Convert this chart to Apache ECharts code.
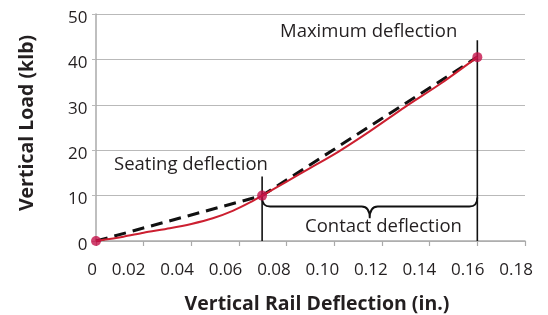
<!DOCTYPE html>
<html><head><meta charset="utf-8">
<script src="https://cdn.jsdelivr.net/npm/echarts@6/dist/echarts.min.js"></script>
<style>html,body{margin:0;padding:0;background:#fff}#c{width:548px;height:315px}</style>
</head><body><div id="c"></div><script>
// Measured load-deflection curve (in., klb)
const curveX = [0, 0.0115, 0.02, 0.031, 0.040, 0.049, 0.0576, 0.0646, 0.0697, 0.08, 0.09, 0.1018, 0.115, 0.1296, 0.145, 0.16];
const curveY = [0, 0.95, 1.83, 2.8, 3.75, 5.0, 6.7, 8.5, 10.0, 13.1, 16.1, 19.7, 24.2, 29.5, 34.8, 40.5];
// Dashed secant lines
const secantX = [0, 0.0697, 0.16];
const secantY = [0, 10, 40.5];
// Key points (origin, seating, maximum)
const keyX = [0, 0.0697, 0.16];
const keyY = [0, 10, 40.5];
// Marker lines for seating and maximum deflection
const seatLineY = [0, 14.2];
const maxLineY = [0, 44.2];
// Brace for contact deflection: [x1, x2, yEnds, yBar, yTip]
const brace = [0.0697, 0.16, 9.6, 7.6, 5.0];
// Axes
const xMin = 0, xMax = 0.18, xStep = 0.02;
const yMin = 0, yMax = 50, yStep = 10;

const zip = (a, b) => a.map((v, i) => [v, b[i]]);
const FONT = '"Open Sans", "Noto Sans", sans-serif';
const TXT = '#231f20';
const GRID = '#b9b9b9';

const chart = echarts.init(document.getElementById('c'));
chart.setOption({
  animation: false,
  backgroundColor: '#fff',
  grid: [
    {left: 96, right: 23, top: 14, bottom: 74},
    {left: 97, right: 15, top: 18, bottom: 70}
  ],
  xAxis: [
    {gridIndex: 0, type: 'value', min: xMin, max: xMax, interval: xStep,
     axisLine: {show: true, lineStyle: {color: '#aaa', width: 1.5}},
     axisTick: {show: true, length: 5, lineStyle: {color: '#aaa', width: 1.2}},
     axisLabel: {show: false}, splitLine: {show: false}},
    {gridIndex: 1, type: 'value', min: xMin, max: xMax, interval: xStep,
     axisLine: {show: false}, axisTick: {show: false}, splitLine: {show: false},
     axisLabel: {show: true, align: 'right', margin: 17, fontSize: 17, fontFamily: FONT, color: TXT,
       formatter: v => v === 0 ? '0' : v.toFixed(2)}}
  ],
  yAxis: [
    {gridIndex: 0, type: 'value', min: yMin, max: yMax, interval: yStep,
     axisLine: {show: true, lineStyle: {color: '#aaa', width: 1.5}},
     axisTick: {show: true, length: 4, lineStyle: {color: GRID}},
     splitLine: {show: true, lineStyle: {color: GRID, width: 1}},
     axisLabel: {show: false}},
    {gridIndex: 1, type: 'value', min: yMin, max: yMax, interval: yStep,
     axisLine: {show: false}, axisTick: {show: false}, splitLine: {show: false},
     axisLabel: {show: true, margin: 9.5, fontSize: 17, fontFamily: FONT, color: TXT}}
  ],
  series: [
    {type: 'line', data: zip(secantX, secantY), symbol: 'none', z: 3,
     lineStyle: {color: '#111', width: 3, type: [12, 7]}},
    {type: 'line', data: zip(curveX, curveY), symbol: 'none', smooth: 0.25, z: 4,
     lineStyle: {color: '#cc1f30', width: 2}},
    {type: 'line', data: zip([keyX[1], keyX[1]], seatLineY), symbol: 'none', z: 2,
     lineStyle: {color: '#111', width: 1.6}},
    {type: 'line', data: zip([keyX[2], keyX[2]], maxLineY), symbol: 'none', z: 2,
     lineStyle: {color: '#111', width: 1.6}},
    {type: 'custom', data: [brace], z: 2,
     encode: {x: [0, 1], y: [2, 3, 4]},
     renderItem: function (params, api) {
       const p1 = api.coord([api.value(0), api.value(2)]);
       const p2 = api.coord([api.value(1), api.value(2)]);
       const yl = api.coord([api.value(0), api.value(3)])[1];
       const yt = api.coord([api.value(0), api.value(4)])[1];
       const xm = (p1[0] + p2[0]) / 2;
       const r = 8;
       const d = `M${p1[0]} ${p1[1]} Q${p1[0]} ${yl} ${p1[0] + r} ${yl} L${xm - r} ${yl} Q${xm} ${yl} ${xm} ${yt} ` +
                 `Q${xm} ${yl} ${xm + r} ${yl} L${p2[0] - r} ${yl} Q${p2[0]} ${yl} ${p2[0]} ${p1[1]}`;
       return {type: 'path', shape: {pathData: d}, style: {stroke: '#111', lineWidth: 1.8, fill: null}};
     }},
    {type: 'scatter', data: zip(keyX, keyY), symbol: 'circle', symbolSize: 10, z: 5,
     itemStyle: {color: '#c4114a'}}
  ],
  graphic: [
    {type: 'text', x: 27, y: 123, rotation: Math.PI / 2,
     style: {text: 'Vertical Load (klb)', align: 'center', verticalAlign: 'middle', fontSize: 19.5, fontWeight: 'bold', fontFamily: FONT, fill: TXT}},
    {type: 'text', x: 317, y: 304,
     style: {text: 'Vertical Rail Deflection (in.)', align: 'center', verticalAlign: 'middle', fontSize: 19.5, fontWeight: 'bold', fontFamily: FONT, fill: TXT}},
    {type: 'text', x: 280, y: 32,
     style: {text: 'Maximum deflection', align: 'left', verticalAlign: 'middle', fontSize: 18.5, fontFamily: FONT, fill: TXT}},
    {type: 'text', x: 114, y: 165,
     style: {text: 'Seating deflection', align: 'left', verticalAlign: 'middle', fontSize: 18.5, fontFamily: FONT, fill: TXT}},
    {type: 'text', x: 305, y: 227,
     style: {text: 'Contact deflection', align: 'left', verticalAlign: 'middle', fontSize: 18.5, fontFamily: FONT, fill: TXT}}
  ]
});
</script></body></html>
